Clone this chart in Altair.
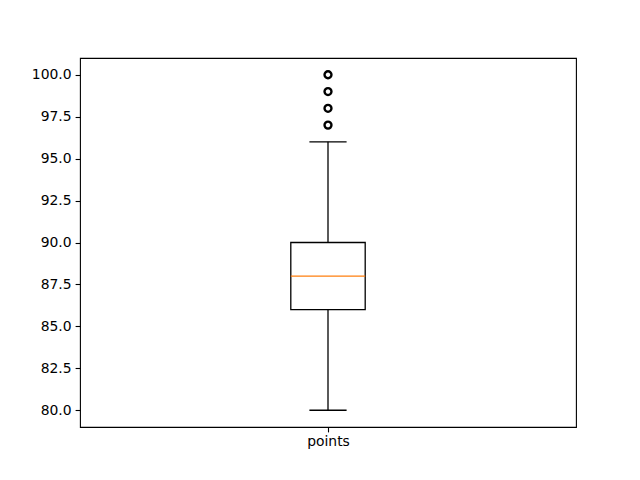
import altair as alt
import pandas as pd

# Summary statistics of the "points" box
category = ["points"]
q1 = [86.0]
median = [88.0]
q3 = [90.0]
whisker_low = [80.0]
whisker_high = [96.0]
outliers = [97.0, 98.0, 99.0, 100.0]
y_ticks = [80.0, 82.5, 85.0, 87.5, 90.0, 92.5, 95.0, 97.5, 100.0]

pos = 1.0
box_half = 0.075
cap_half = 0.0375

stats = pd.DataFrame({
    "cat": category,
    "q1": q1, "median": median, "q3": q3,
    "lo": whisker_low, "hi": whisker_high,
    "x": [pos],
    "bx1": [pos - box_half], "bx2": [pos + box_half],
    "cx1": [pos - cap_half], "cx2": [pos + cap_half],
})
out_df = pd.DataFrame({"x": [pos] * len(outliers), "v": outliers})

xscale = alt.Scale(domain=[0.5, 1.5], nice=False, zero=False)
yscale = alt.Scale(domain=[79, 101], nice=False, zero=False)

x_axis = alt.Axis(values=[1], labelExpr="'points'", title=None, grid=False,
                  labelFont="DejaVu Sans", labelFontSize=13.9, labelColor="black",
                  tickColor="black", tickWidth=1.1, domain=False, tickSize=4.9,
                  labelPadding=3)
y_axis = alt.Axis(values=y_ticks, format=".1f", title=None, grid=False,
                  labelFont="DejaVu Sans", labelFontSize=13.9, labelColor="black",
                  tickColor="black", tickWidth=1.1, domain=False, tickSize=4.9,
                  labelPadding=4)

base = alt.Chart(stats)
lw = 1.3

whisk_low = base.mark_rule(color="black", strokeWidth=lw).encode(
    x=alt.X("x:Q", scale=xscale, axis=x_axis),
    y=alt.Y("lo:Q", scale=yscale, axis=y_axis),
    y2="q1:Q",
)
whisk_high = base.mark_rule(color="black", strokeWidth=lw).encode(
    x=alt.X("x:Q", scale=xscale), y=alt.Y("q3:Q", scale=yscale), y2="hi:Q",
)
cap_low = base.mark_rule(color="black", strokeWidth=lw).encode(
    x=alt.X("cx1:Q", scale=xscale), x2="cx2:Q", y=alt.Y("lo:Q", scale=yscale),
)
cap_high = base.mark_rule(color="black", strokeWidth=lw).encode(
    x=alt.X("cx1:Q", scale=xscale), x2="cx2:Q", y=alt.Y("hi:Q", scale=yscale),
)
box = base.mark_rect(fill="white", stroke="black", strokeWidth=lw).encode(
    x=alt.X("bx1:Q", scale=xscale), x2="bx2:Q",
    y=alt.Y("q1:Q", scale=yscale), y2="q3:Q",
)
med = base.mark_rule(color="#ff7f0e", strokeWidth=lw).encode(
    x=alt.X("bx1:Q", scale=xscale), x2="bx2:Q", y=alt.Y("median:Q", scale=yscale),
)
pts = alt.Chart(out_df).mark_point(shape="circle", filled=False, color="black",
                                    size=48, strokeWidth=2.4, opacity=1).encode(
    x=alt.X("x:Q", scale=xscale), y=alt.Y("v:Q", scale=yscale),
)

chart = alt.layer(whisk_low, whisk_high, cap_low, cap_high, box, med, pts).properties(
    width=496, height=369,
    autosize=alt.AutoSizeParams(type="none"),
    padding={"left": 80, "top": 58, "right": 64, "bottom": 53},
).configure(
    background="white",
    view=alt.ViewConfig(stroke="black", strokeWidth=1.1),
)

chart.save("out.html", embed_options={"renderer": "svg", "actions": False})
